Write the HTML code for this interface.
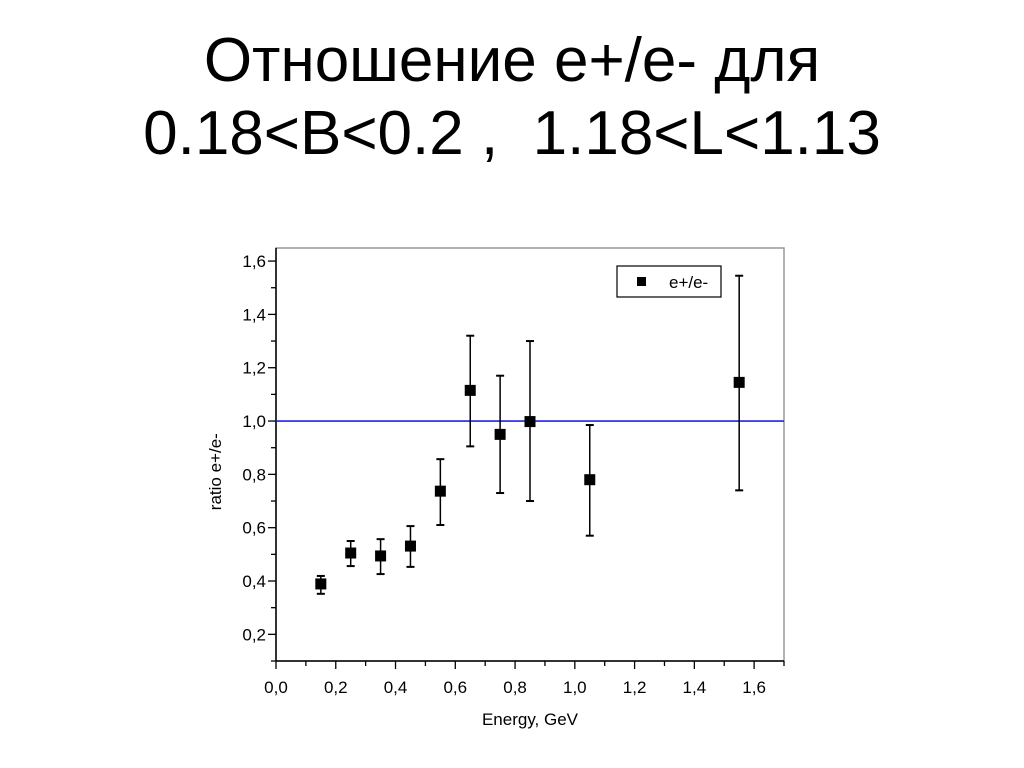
<!DOCTYPE html>
<html><head><meta charset="utf-8"><style>
body{margin:0;background:#fff;width:1024px;height:768px;overflow:hidden;font-family:"Liberation Sans",sans-serif}
.t{position:absolute;left:0;width:1024px;text-align:center;font-size:62px;color:#000;line-height:normal}
</style></head><body>
<div class="t" style="top:25px">Отношение e+/e- для</div>
<div class="t" style="top:98px">0.18&lt;B&lt;0.2 ,&nbsp; 1.18&lt;L&lt;1.13</div>
<svg id="c" width="1024" height="768" style="position:absolute;left:0;top:0" font-family="Liberation Sans, sans-serif"></svg>
<script>
const xs=[0.15,0.25,0.35,0.45,0.55,0.65,0.75,0.85,1.05,1.55];
const ys=[0.389,0.505,0.494,0.531,0.737,1.115,0.95,0.998,0.78,1.145];
const lo=[0.352,0.456,0.426,0.453,0.61,0.905,0.73,0.70,0.57,0.74];
const hi=[0.419,0.55,0.557,0.606,0.857,1.32,1.17,1.30,0.985,1.545];
const xTicks=[0,0.2,0.4,0.6,0.8,1.0,1.2,1.4,1.6];
const yTicks=[0.2,0.4,0.6,0.8,1.0,1.2,1.4,1.6];
const X0=276,X1=784,Y0=661,Y1=248,xmin=0,xmax=1.7,ymin=0.1,ymax=1.649;
const sx=v=>X0+(v-xmin)/(xmax-xmin)*(X1-X0);
const sy=v=>Y0-(v-ymin)/(ymax-ymin)*(Y0-Y1);
const svg=document.getElementById('c');const NS='http://www.w3.org/2000/svg';
function el(t,a,txt){const e=document.createElementNS(NS,t);for(const k in a)e.setAttribute(k,a[k]);if(txt!==undefined)e.textContent=txt;svg.appendChild(e);return e;}
let e;
e=el('rect',{x:X0,y:Y1,width:X1-X0,height:Y0-Y1,fill:'none',stroke:'#999','stroke-width':1.5});


e=el('line',{x1:X0,y1:Y0,x2:X1,y2:Y0,stroke:'#000','stroke-width':1.5});


e=el('line',{x1:X0,y1:Y0,x2:X0,y2:Y1,stroke:'#000','stroke-width':1.5});


for(let v=0;v<=1.701;v+=0.1){const major=Math.abs(v*5-Math.round(v*5))<1e-6;
e=el('line',{x1:sx(v),y1:Y0,x2:sx(v),y2:Y0+(major?8:5),stroke:'#000','stroke-width':1.3});

}
xTicks.forEach(v=>{e=el('text',{x:sx(v),y:Y0+32,'text-anchor':'middle','font-size':17},v.toFixed(1).replace('.',','));

});
for(let v=0.1;v<=1.65;v+=0.1){const major=Math.abs(v*5-Math.round(v*5))<1e-6;
e=el('line',{x1:X0,y1:sy(v),x2:X0-(major?8:5),y2:sy(v),stroke:'#000','stroke-width':1.3});

}
yTicks.forEach(v=>{e=el('text',{x:X0-10,y:sy(v)+6,'text-anchor':'end','font-size':17},v.toFixed(1).replace('.',','));

});
e=el('text',{x:sx(0.85),y:725,'text-anchor':'middle','font-size':17},'Energy, GeV');


e=el('text',{x:0,y:0,'text-anchor':'middle','font-size':17,transform:`translate(221,${sy(0.81)}) rotate(-90)`},'ratio e+/e-');


e=el('line',{x1:X0,y1:sy(1),x2:X1,y2:sy(1),stroke:'#2222dd','stroke-width':1.6});


xs.forEach((x,i)=>{const px=sx(x);
e=el('line',{x1:px,y1:sy(lo[i]),x2:px,y2:sy(hi[i]),stroke:'#000','stroke-width':1.5});


[lo[i],hi[i]].forEach(v=>{e=el('line',{x1:px-4,y1:sy(v),x2:px+4,y2:sy(v),stroke:'#000','stroke-width':2});

});
e=el('rect',{x:px-5.5,y:sy(ys[i])-5.5,width:11,height:11,fill:'#000'});

});
e=el('rect',{x:617,y:266,width:104,height:31,fill:'#fff',stroke:'#000','stroke-width':1.2});


e=el('rect',{x:637,y:277,width:9,height:9,fill:'#000'});


e=el('text',{x:669,y:288,'font-size':17},'e+/e-');


</script>
</body></html>
